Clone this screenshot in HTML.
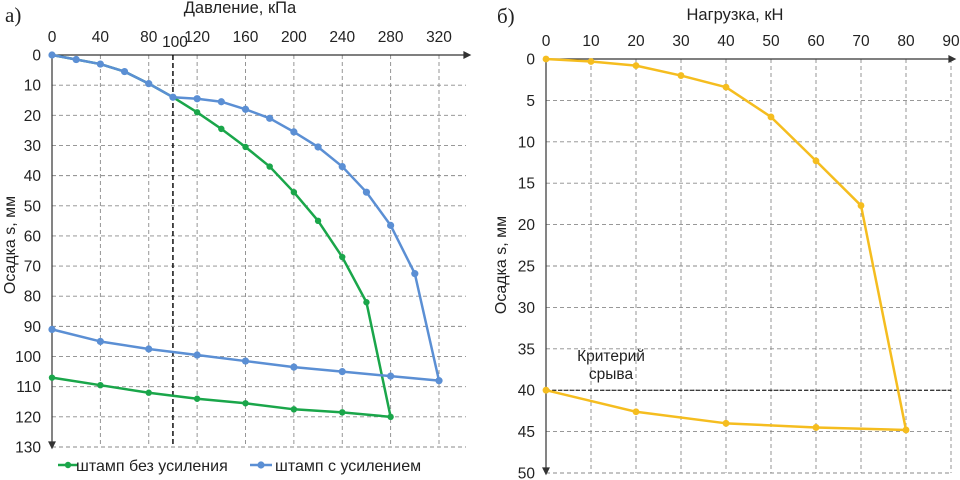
<!DOCTYPE html>
<html><head><meta charset="utf-8"><style>
html,body{margin:0;padding:0;background:#fff;width:960px;height:480px;overflow:hidden}
svg{display:block;font-family:"Liberation Sans",sans-serif}
</style></head><body>
<svg id="svg" width="960" height="480" viewBox="0 0 960 480">
<g id="left"></g>
<g id="right"></g>
</svg>
<script>
// Left chart data
const leftXTicks = [0,40,80,120,160,200,240,280,320];
const leftYTicks = [0,10,20,30,40,50,60,70,80,90,100,110,120,130];
const blueX = [0,20,40,60,80,100,120,140,160,180,200,220,240,260,280,300,320,280,240,200,160,120,80,40,0];
const blueY = [0,1.5,3,5.5,9.5,14,14.5,15.5,18,21,25.5,30.5,37,45.5,56.5,72.5,108,106.5,105,103.5,101.5,99.5,97.5,95,91];
const greenX = [0,20,40,60,80,100,120,140,160,180,200,220,240,260,280,240,200,160,120,80,40,0];
const greenY = [0,1.5,3,5.5,9.5,14,19,24.5,30.5,37,45.5,55,67,82,120,118.5,117.5,115.5,114,112,109.5,107];
const markerLine = 100;
// Right chart data
const rightXTicks = [0,10,20,30,40,50,60,70,80,90];
const rightYTicks = [0,5,10,15,20,25,30,35,40,45,50];
const loadX = [0,10,20,30,40,50,60,70,80,60,40,20,0];
const loadY = [0,0.3,0.8,2,3.4,7,12.3,17.7,44.8,44.5,44,42.6,40];
const criterion = 40;

const NS='http://www.w3.org/2000/svg';
function mk(parent,tag,attrs,text){const e=document.createElementNS(NS,tag);for(const k in attrs)e.setAttribute(k,attrs[k]);if(text!==undefined)e.textContent=text;parent.appendChild(e);return e;}

function chart(g, o){
  const sx=v=>o.x0+(v-o.xmin)/(o.xmax-o.xmin)*(o.x1-o.x0);
  const sy=v=>o.y0+(v-o.ymin)/(o.ymax-o.ymin)*(o.y1-o.y0);
  o.xt.forEach(t=>{ if(t===0) return;
    const l=mk(g,'line',{x1:sx(t),x2:sx(t),y1:o.y0,y2:o.y1,stroke:'#8a8a8a','stroke-dasharray':'4,3','stroke-width':0.9});
    
    
  });
  o.yt.forEach(t=>{ if(t===0) return;
    const l=mk(g,'line',{x1:o.x0,x2:o.gridRight,y1:sy(t),y2:sy(t),stroke:'#8a8a8a','stroke-dasharray':'4,3','stroke-width':0.9});
    
    
  });
  o.xt.forEach(t=>{const e=mk(g,'text',{x:sx(t),y:o.y0-13,'text-anchor':'middle','font-size':15.5,fill:'#222'},t);
    
    });
  o.yt.forEach(t=>{const e=mk(g,'text',{x:o.x0-11,y:sy(t)+5.5,'text-anchor':'end','font-size':15.5,fill:'#222'},t);
    
    });
  const ax=mk(g,'path',{d:`M${o.x0},${o.y0}H${o.gridRight+4} M${o.gridRight+4},${o.y0}l-6,-3v6z M${o.x0},${o.y0}V${o.y1+1} M${o.x0},${o.y1+1}l-3,-6h6z`,stroke:'#333','stroke-width':1.2,fill:'#333'});
  
  
  return {sx,sy};
}
function series(g,sx,sy,xs,ys,color,name,r){
  const d=xs.map((x,i)=>(i?'L':'M')+sx(x)+','+sy(ys[i])).join('');
  const p=mk(g,'path',{d,stroke:color,'stroke-width':2.5,fill:'none','stroke-linejoin':'round'});
  
  
  xs.forEach((x,i)=>{const c=mk(g,'circle',{cx:sx(x),cy:sy(ys[i]),r:r,fill:color});
    
    });
}

const L=document.getElementById('left');
const l=chart(L,{x0:52,x1:439,xmin:0,xmax:320,y0:55,y1:447,ymin:0,ymax:130,xt:leftXTicks,yt:leftYTicks,gridRight:466});
const dl=mk(L,'line',{x1:l.sx(markerLine),x2:l.sx(markerLine),y1:55,y2:447,stroke:'#000','stroke-width':1.4,'stroke-dasharray':'5,3'});


series(L,l.sx,l.sy,greenX,greenY,'#1aa64a','green-series',3.2);
series(L,l.sx,l.sy,blueX,blueY,'#5b8fd4','blue-series',3.6);
</script>
<svg style="position:absolute;left:0;top:0" width="960" height="480">
<text x="5" y="22" font-family="Liberation Serif,serif" font-size="21" fill="#222">а)</text>
<text x="240" y="13" text-anchor="middle" font-family="Liberation Sans,sans-serif" font-size="16.5" fill="#222">Давление, кПа</text>
<text x="175" y="47" text-anchor="middle" font-family="Liberation Sans,sans-serif" font-size="15.5" fill="#222">100</text>
<text transform="translate(15,245) rotate(-90)" text-anchor="middle" font-family="Liberation Sans,sans-serif" font-size="16" fill="#222">Осадка s, мм</text>
<g>
<line x1="58" y1="465" x2="78" y2="465" stroke="#1aa64a" stroke-width="2.5"/><circle cx="68" cy="465" r="3.2" fill="#1aa64a"/>
<text x="76" y="471" font-family="Liberation Sans,sans-serif" font-size="16" fill="#222">штамп без усиления</text>
<line x1="250" y1="465" x2="272" y2="465" stroke="#5b8fd4" stroke-width="2.5"/><circle cx="261" cy="465" r="3.6" fill="#5b8fd4"/>
<text x="275" y="471" font-family="Liberation Sans,sans-serif" font-size="16" fill="#222">штамп с усилением</text>
</g>
<text x="497" y="23" font-family="Liberation Serif,serif" font-size="21" fill="#222">б)</text>
<text x="735" y="20" text-anchor="middle" font-family="Liberation Sans,sans-serif" font-size="16.5" fill="#222">Нагрузка, кН</text>
<text transform="translate(506,265) rotate(-90)" text-anchor="middle" font-family="Liberation Sans,sans-serif" font-size="16" fill="#222">Осадка s, мм</text>
<text x="611" y="361" text-anchor="middle" font-family="Liberation Sans,sans-serif" font-size="15.5" fill="#222">Критерий</text>
<text x="611" y="379" text-anchor="middle" font-family="Liberation Sans,sans-serif" font-size="15.5" fill="#222">срыва</text>
</svg>
<script>
const R=document.getElementById('right');
const r=chart(R,{x0:546,x1:951,xmin:0,xmax:90,y0:59,y1:473,ymin:0,ymax:50,xt:rightXTicks,yt:rightYTicks,gridRight:951});
const cl=mk(R,'line',{x1:546,x2:951,y1:r.sy(criterion),y2:r.sy(criterion),stroke:'#000','stroke-width':1,'stroke-dasharray':'4,2'});


series(R,r.sx,r.sy,loadX,loadY,'#f5bd1f','load-series',3.4);
</script>
</body></html>
